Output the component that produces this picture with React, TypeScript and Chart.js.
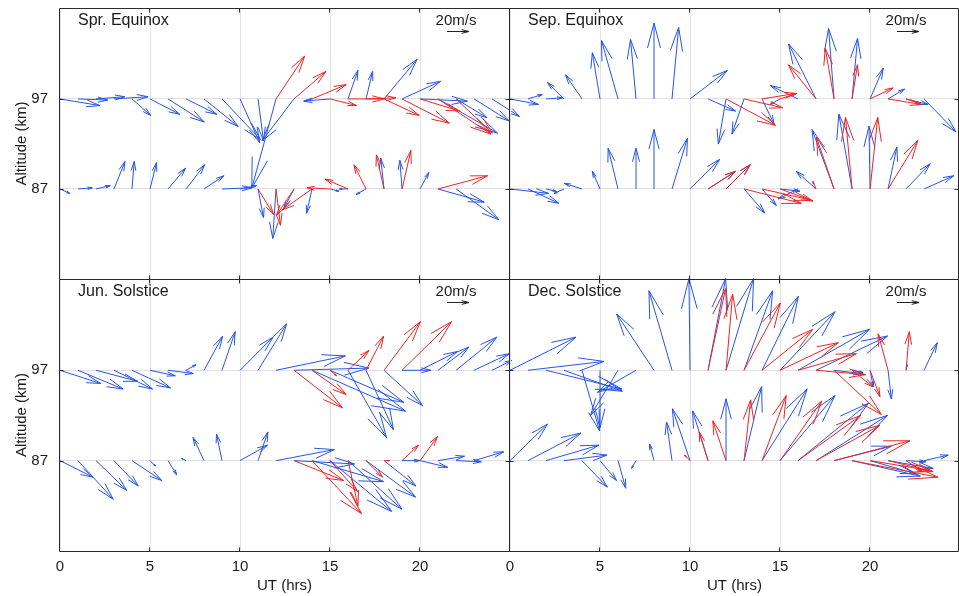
import React, { useEffect, useRef } from 'react';
import { Chart, registerables } from 'chart.js';

Chart.register(...registerables);

const FONT = "'Liberation Sans', Arial, Helvetica, sans-serif";
const W = 959;
const H = 596;

// ---------- axes ----------
const HOURS = [0, 1, 2, 3, 4, 5, 6, 7, 8, 9, 10, 11, 12, 13, 14, 15, 16, 17, 18, 19, 20, 21, 22, 23, 24];
const X_TICKS = [0, 5, 10, 15, 20];
const ALT_TICKS = [87, 97];
const X_MIN = 0;
const X_MAX = 24.94;
const Y_MIN = 77;
const Y_MAX = 107.1;
const REF_SPEED = 20; // m/s (legend arrow)
const REF_LABEL = '20m/s';
// quiver scale: 1 m/s -> hours / km on the axes
const HR_PER_MS = 1.1 / 18;
const KM_PER_MS = 1.1 / 9;

const N = null;

// ---------- Spr. Equinox (u = eastward, v = northward, m/s) ----------
const SPR_B97_U = [36, 27, 26, 31, 17, 27, 33, 28, 31, 35, 18, 5, -22, -29, -7, -24, 9, 6, 30, 35, 43, 54, 28, 32, 25];
const SPR_B97_V = [-6, -1, 2, 2, -15, -14, -21, -14, -25, -37, -40, -38, -81, -38, -2, -2, 26, 25, 36, 16, -2, -31, -17, -20, -16];
const SPR_R97_U = [N, N, N, N, N, N, N, N, N, N, N, N, 26, 29, 31, 24, 33, 27, 32, 43, 36, 48, 33, N, N];
const SPR_R97_V = [N, N, N, N, N, N, N, N, N, N, N, N, 39, 25, 13, -6, 0, 1, -15, -22, -11, -32, -31, N, N];
const SPR_B87_U = [9, 13, 13, 10, 2, 6, 16, 17, 18, 27, 15, 5, -3, -9, -5, 8, -8, -9, -3, -2, 8, 42, 39, N, N];
const SPR_B87_V = [-4, 1, 3, 25, 25, 24, 19, 22, 12, 1, 3, -26, -45, -17, -22, -2, 0, -5, 28, 26, 15, -12, -28, N, N];
const SPR_R87_U = [N, N, N, N, N, N, N, N, N, N, N, 14, 4, -16, -27, -21, -21, -11, -7, 8, N, 45, N, N, N];
const SPR_R87_V = [N, N, N, N, N, N, N, N, N, N, N, -23, -33, -24, -19, 1, 9, 22, 31, 35, N, 12, N, N, N];

// ---------- Sep. Equinox ----------
const SEP_B97_U = [26, 13, 15, -15, -15, -7, -15, -5, 0, 6, 34, 25, -7, -11, 11, -9, -25, -25, -5, 5, 12, 15, 20, 29, N];
const SEP_B97_V = [-5, 4, 1, 15, 22, 42, 53, 54, 69, 65, 26, -11, -41, -32, -23, -5, 12, 50, 64, 55, 28, 9, -5, -30, N];
const SEP_R97_U = [N, N, N, N, N, N, N, N, N, N, N, N, 45, 35, 31, 15, N, -25, -8, 5, 21, 30, 14, N, N];
const SEP_R97_V = [N, N, N, N, N, N, N, N, N, N, N, N, -24, -8, 5, 5, N, 31, 46, 31, 10, -5, -5, N, N];
const SEP_B87_U = [35, 28, 9, -9, -16, -7, -9, 0, 0, 14, 27, 25, 22, 19, 13, 18, -18, -18, -20, -12, -1, 8, 22, 27, N];
const SEP_B87_V = [-4, -13, -2, -4, 5, 16, 37, 37, 54, 46, 27, 16, 22, -22, -15, -2, -9, 16, 54, 68, 57, 38, 23, 12, N];
const SEP_R87_U = [N, N, N, N, N, N, N, N, N, N, N, 25, 22, 52, 44, 30, N, -3, -16, -6, 7, 27, N, N, N];
const SEP_R87_V = [N, N, N, N, N, N, N, N, N, N, N, 16, 22, -13, -10, -11, N, 7, 47, 65, 65, 44, N, N, N];

// ---------- Jun. Solstice ----------
const JUN_B97_U = [37, 41, 38, 35, 35, 23, 23, 9, 17, 12, 30, 26, 63, 68, 85, 67, 35, 25, 35, 26, 34, 28, 37, 32, 18];
const JUN_B97_V = [-12, -17, -10, -17, -16, -5, -3, 5, 31, 35, 30, 42, 13, 2, -37, -29, -61, -54, -32, 0, 17, 21, 30, 15, 9];
const JUN_R97_U = [N, N, N, N, N, N, N, N, N, N, N, N, N, 44, 31, 6, 19, 16, 33, 45, N, N, N, N, N];
const JUN_R97_V = [N, N, N, N, N, N, N, N, N, N, N, N, N, -34, -22, -5, 18, 31, 44, 44, N, N, N, N, N];
const JUN_B87_U = [30, 32, 28, 22, 27, 5, 8, -4, -10, -5, 25, 9, 53, 55, 65, 56, 49, 45, 29, 16, 25, 24, 23, 27, N];
const JUN_B87_V = [-15, -35, -27, -23, -18, -5, -13, 2, 21, 24, 14, 26, 10, -3, -19, -46, -44, -33, -23, 0, -6, 4, -1, 8, N];
const JUN_R87_U = [N, N, N, N, N, N, N, N, N, N, N, N, N, 45, 45, 25, 9, 15, 5, 15, 16, N, N, N, N];
const JUN_R87_V = [N, N, N, N, N, N, N, N, N, N, N, N, N, -18, -48, -28, -41, -15, 0, 14, 22, N, N, N, N];

// ---------- Dec. Solstice ----------
const DEC_B97_U = [60, 69, 69, 53, 16, 0, -25, -35, -34, -21, -1, 16, 25, 26, 33, 50, 65, 65, 26, 10, 3, 3, 1, 12, N];
const DEC_B97_V = [30, 8, -17, -19, -55, -52, -41, -20, 51, 72, 83, 83, 83, 72, 67, 53, 37, 31, -3, -2, -15, -26, 5, 25, N];
const DEC_R97_U = [N, N, N, N, N, N, N, N, N, N, N, 16, 6, 33, 46, 53, 53, 45, 43, 19, 9, -9, 3, N, N];
const DEC_R97_V = [N, N, N, N, N, N, N, N, N, N, N, 74, 69, 61, 37, 25, 15, -4, -40, -15, -24, 33, 35, N, N];
const DEC_B87_U = [34, 48, 48, 39, 23, 15, 7, -4, -4, -5, -16, -14, 0, 16, 41, 50, 64, 65, 52, 62, 42, 41, 18, 22, N];
const DEC_B87_V = [33, 25, 14, 5, -24, -18, -25, -7, 15, 35, 47, 45, 56, 67, 65, 59, 52, 41, 13, -14, -12, -7, -1, 5, N];
const DEC_R87_U = [N, N, N, N, N, N, N, N, N, N, -5, -8, -12, 6, 22, 38, 57, 58, 69, 78, 55, 41, 15, N, N];
const DEC_R87_V = [N, N, N, N, N, N, N, N, N, N, 5, 26, 36, 55, 59, 54, 41, 32, 18, -15, -9, -10, -10, N, N];

const BLUE = 'rgb(38, 84, 232)';
const RED = 'rgb(236, 36, 36)';
const GRID = '#e1e1e1';
const AXIS = '#2b2b2b';
const TEXT = '#1a1a1a';

type Vec = (number | null)[];
type PanelDef = {
  title: string;
  row: number;
  col: number;
  blue97: [Vec, Vec];
  blue87: [Vec, Vec];
  red97: [Vec, Vec];
  red87: [Vec, Vec];
};

const PANELS: PanelDef[] = [
  { title: 'Spr. Equinox', row: 0, col: 0, blue97: [SPR_B97_U, SPR_B97_V], blue87: [SPR_B87_U, SPR_B87_V], red97: [SPR_R97_U, SPR_R97_V], red87: [SPR_R87_U, SPR_R87_V] },
  { title: 'Sep. Equinox', row: 0, col: 1, blue97: [SEP_B97_U, SEP_B97_V], blue87: [SEP_B87_U, SEP_B87_V], red97: [SEP_R97_U, SEP_R97_V], red87: [SEP_R87_U, SEP_R87_V] },
  { title: 'Jun. Solstice', row: 1, col: 0, blue97: [JUN_B97_U, JUN_B97_V], blue87: [JUN_B87_U, JUN_B87_V], red97: [JUN_R97_U, JUN_R97_V], red87: [JUN_R87_U, JUN_R87_V] },
  { title: 'Dec. Solstice', row: 1, col: 1, blue97: [DEC_B97_U, DEC_B97_V], blue87: [DEC_B87_U, DEC_B87_V], red97: [DEC_R97_U, DEC_R97_V], red87: [DEC_R87_U, DEC_R87_V] },
];

function vecPoints(alt: number, uv: [Vec, Vec]) {
  const [us, vs] = uv;
  const pts: { x: number; y: number; u: number; v: number }[] = [];
  HOURS.forEach((h, i) => {
    const u = us[i];
    const v = vs[i];
    if (u == null || v == null) return;
    pts.push({ x: h, y: alt, u, v });
  });
  return pts;
}

function drawArrow(ctx: CanvasRenderingContext2D, x0: number, y0: number, x1: number, y1: number) {
  const dx = x1 - x0;
  const dy = y1 - y0;
  if (Math.hypot(dx, dy) < 0.3) return;
  const a = 0.33;
  const b = 0.26;
  const hx1 = x1 - a * (dx + b * dy);
  const hy1 = y1 - a * (dy - b * dx);
  const hx2 = x1 - a * (dx - b * dy);
  const hy2 = y1 - a * (dy + b * dx);
  ctx.beginPath();
  ctx.moveTo(x0, y0);
  ctx.lineTo(x1, y1);
  ctx.moveTo(hx1, hy1);
  ctx.lineTo(x1, y1);
  ctx.lineTo(hx2, hy2);
  ctx.stroke();
}

const quiverPlugin = {
  id: 'quiver',
  afterDatasetsDraw(chart: any) {
    const { ctx, chartArea: a, scales } = chart;
    const xs = scales.x;
    const ys = scales.y;
    const title = chart.options.plugins.quiver.title as string;
    ctx.save();
    ctx.lineWidth = 1;
    ctx.lineCap = 'butt';
    ctx.lineJoin = 'miter';
    chart.data.datasets.forEach((ds: any) => {
      ctx.strokeStyle = ds.borderColor;
      ds.data.forEach((p: any) => {
        const x0 = xs.getPixelForValue(p.x);
        const y0 = ys.getPixelForValue(p.y);
        const x1 = xs.getPixelForValue(p.x + p.u * HR_PER_MS);
        const y1 = ys.getPixelForValue(p.y + p.v * KM_PER_MS);
        drawArrow(ctx, x0, y0, x1, y1);
      });
    });

    // frame
    const L = Math.round(a.left) - 0.5;
    const R = Math.min(Math.round(a.right) + 0.5, W - 0.5);
    const T = Math.round(a.top) + 0.5;
    const B = Math.round(a.bottom) + 0.5;
    ctx.strokeStyle = AXIS;
    ctx.beginPath();
    ctx.moveTo(L, T);
    ctx.lineTo(R, T);
    ctx.lineTo(R, B);
    ctx.lineTo(L, B);
    ctx.closePath();
    ctx.stroke();
    // inner tick marks
    ctx.beginPath();
    X_TICKS.forEach((v) => {
      const px = Math.round(xs.getPixelForValue(v)) - 0.5;
      if (px <= L + 1) return;
      ctx.moveTo(px, T);
      ctx.lineTo(px, T + 4);
      ctx.moveTo(px, B);
      ctx.lineTo(px, B - 4);
    });
    ALT_TICKS.forEach((v) => {
      const py = Math.round(ys.getPixelForValue(v)) + 0.5;
      ctx.moveTo(L, py);
      ctx.lineTo(L + 4, py);
      ctx.moveTo(R, py);
      ctx.lineTo(R - 4, py);
    });
    ctx.stroke();

    // panel title
    ctx.fillStyle = TEXT;
    ctx.font = `16px ${FONT}`;
    ctx.textAlign = 'left';
    ctx.textBaseline = 'middle';
    ctx.fillText(title, a.left + 18, a.top + 13);

    // reference arrow
    ctx.font = `15px ${FONT}`;
    ctx.textAlign = 'center';
    ctx.fillText(REF_LABEL, a.right - 53, a.top + 13);
    const lx0 = a.right - 62;
    const len = xs.getPixelForValue(X_MIN + REF_SPEED * HR_PER_MS) - xs.getPixelForValue(X_MIN);
    ctx.strokeStyle = '#222';
    drawArrow(ctx, lx0, a.top + 23.5, lx0 + len, a.top + 23.5);
    ctx.restore();
  },
};

function makeConfig(p: PanelDef): any {
  const isLeft = p.col === 0;
  const isBottom = p.row === 1;
  const tickFont = { family: FONT, size: 15 };
  return {
    type: 'scatter',
    data: {
      datasets: [
        { label: 'blue 97', data: vecPoints(97, p.blue97), borderColor: BLUE, pointRadius: 0 },
        { label: 'blue 87', data: vecPoints(87, p.blue87), borderColor: BLUE, pointRadius: 0 },
        { label: 'red 97', data: vecPoints(97, p.red97), borderColor: RED, pointRadius: 0 },
        { label: 'red 87', data: vecPoints(87, p.red87), borderColor: RED, pointRadius: 0 },
      ],
    },
    options: {
      responsive: false,
      animation: false,
      devicePixelRatio: 1,
      events: [],
      layout: {
        padding: {
          left: isLeft ? 0 : 510,
          right: isLeft ? W - 509 : 0,
          top: isBottom ? 279 : 8,
          bottom: isBottom ? 0 : H - 279,
        },
      },
      plugins: {
        legend: { display: false },
        tooltip: { enabled: false },
        quiver: { title: p.title },
      },
      scales: {
        x: {
          type: 'linear',
          min: X_MIN,
          max: X_MAX,
          afterBuildTicks: (s: any) => {
            s.ticks = X_TICKS.map((v) => ({ value: v }));
          },
          afterFit: (s: any) => {
            s.height = isBottom ? 45 : 0;
            s.paddingLeft = 0;
            s.paddingRight = 0;
          },
          ticks: { display: isBottom, padding: 7, font: tickFont, color: TEXT, maxRotation: 0 },
          grid: { color: GRID, lineWidth: 1, drawTicks: false },
          border: { display: false },
          title: { display: isBottom, text: 'UT (hrs)', font: tickFont, color: TEXT, padding: { top: 0, bottom: 1 } },
        },
        y: {
          type: 'linear',
          min: Y_MIN,
          max: Y_MAX,
          afterBuildTicks: (s: any) => {
            s.ticks = ALT_TICKS.map((v) => ({ value: v }));
          },
          afterFit: (s: any) => {
            s.width = isLeft ? 60 : 0;
            s.paddingTop = 0;
            s.paddingBottom = 0;
          },
          ticks: { display: isLeft, padding: 12, font: tickFont, color: TEXT },
          grid: { color: GRID, lineWidth: 1, drawTicks: false },
          border: { display: false },
          title: { display: isLeft, text: 'Altitude (km)', font: tickFont, color: TEXT, padding: { top: 13, bottom: 0 } },
        },
      },
    },
    plugins: [quiverPlugin],
  };
}

export default function App() {
  const refs = [useRef<HTMLCanvasElement>(null), useRef<HTMLCanvasElement>(null), useRef<HTMLCanvasElement>(null), useRef<HTMLCanvasElement>(null)];
  useEffect(() => {
    const charts = PANELS.map((p, i) => new Chart(refs[i].current as HTMLCanvasElement, makeConfig(p)));
    return () => charts.forEach((c) => c.destroy());
  }, []);
  return (
    <div style={{ position: 'absolute', left: 0, top: 0, width: W, height: H, background: '#fff', overflow: 'hidden' }}>
      {PANELS.map((p, i) => (
        <canvas
          key={p.title}
          ref={refs[i]}
          width={W}
          height={H}
          style={{ position: 'absolute', left: 0, top: 0, width: W, height: H }}
        />
      ))}
    </div>
  );
}
